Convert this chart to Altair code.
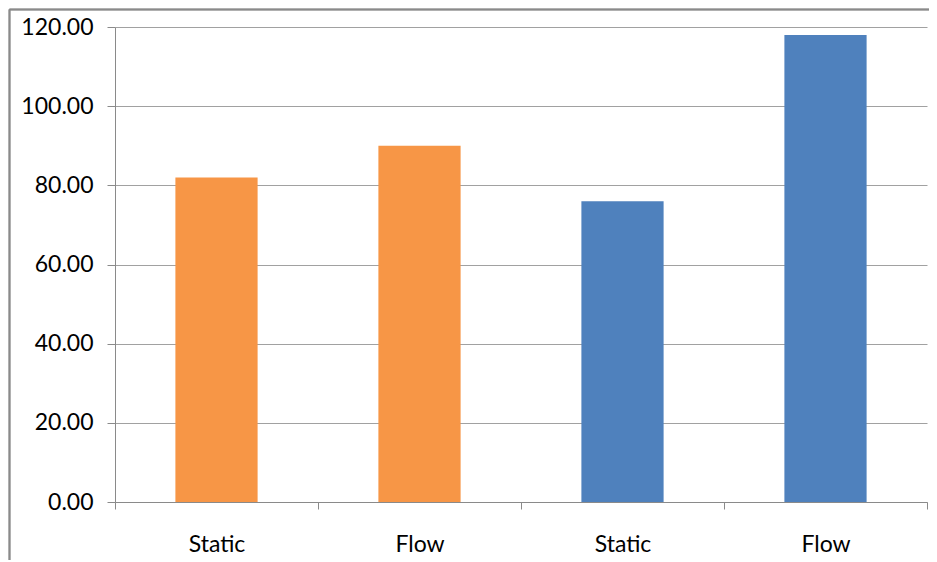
import altair as alt
import pandas as pd

keys = ["g1_static", "g1_flow", "g2_static", "g2_flow"]
labels = ["Static", "Flow", "Static", "Flow"]
values = [82.0, 90.0, 76.0, 118.0]
groups = ["orange", "orange", "blue", "blue"]

df = pd.DataFrame({"key": keys, "label": labels, "value": values, "group": groups})

label_map = "{" + ",".join(f"'{k}':'{l}'" for k, l in zip(keys, labels)) + "}"

grey = "#8a8a8a"
font = "Lato"

bars = alt.Chart(df).mark_bar(width=alt.RelativeBandSize(0.405)).encode(
    x=alt.X("key:N", sort=keys,
            scale=alt.Scale(paddingInner=0, paddingOuter=0),
            axis=alt.Axis(title=None, labelAngle=0, tickBand="extent",
                          labelExpr=f"{label_map}[datum.value]",
                          domainColor=grey, tickColor=grey, tickSize=7,
                          labelFont=font, labelFontSize=23, labelColor="#000000",
                          labelPadding=24, grid=False)),
    y=alt.Y("value:Q", scale=alt.Scale(domain=[0, 120], nice=False),
            axis=alt.Axis(title=None, values=[0, 20, 40, 60, 80, 100, 120], format=".2f",
                          domainColor=grey, tickColor=grey, tickSize=8,
                          gridColor=grey, gridOpacity=0.8,
                          labelFont=font, labelFontSize=23, labelColor="#000000",
                          labelPadding=14)),
    color=alt.Color("group:N", scale=alt.Scale(domain=["orange", "blue"], range=["#F79646", "#4F81BD"]), legend=None),
)

frame_top = alt.Chart(df).mark_rule(stroke=grey, strokeWidth=1.5).encode(
    x=alt.value(-105.5), x2=alt.value(830), y=alt.value(-17.5)
)
frame_left = alt.Chart(df).mark_rule(stroke=grey, strokeWidth=1.5).encode(
    x=alt.value(-105.5), y=alt.value(-17.5), y2=alt.value(560)
)

chart = alt.layer(bars, frame_top, frame_left).properties(
    width=812, height=475,
    autosize=alt.AutoSizeParams(type="none"),
    padding={"left": 107, "top": 19, "right": 2, "bottom": 58},
).configure_view(stroke=None)

chart.save("out.html", embed_options={"renderer": "svg", "actions": False})
